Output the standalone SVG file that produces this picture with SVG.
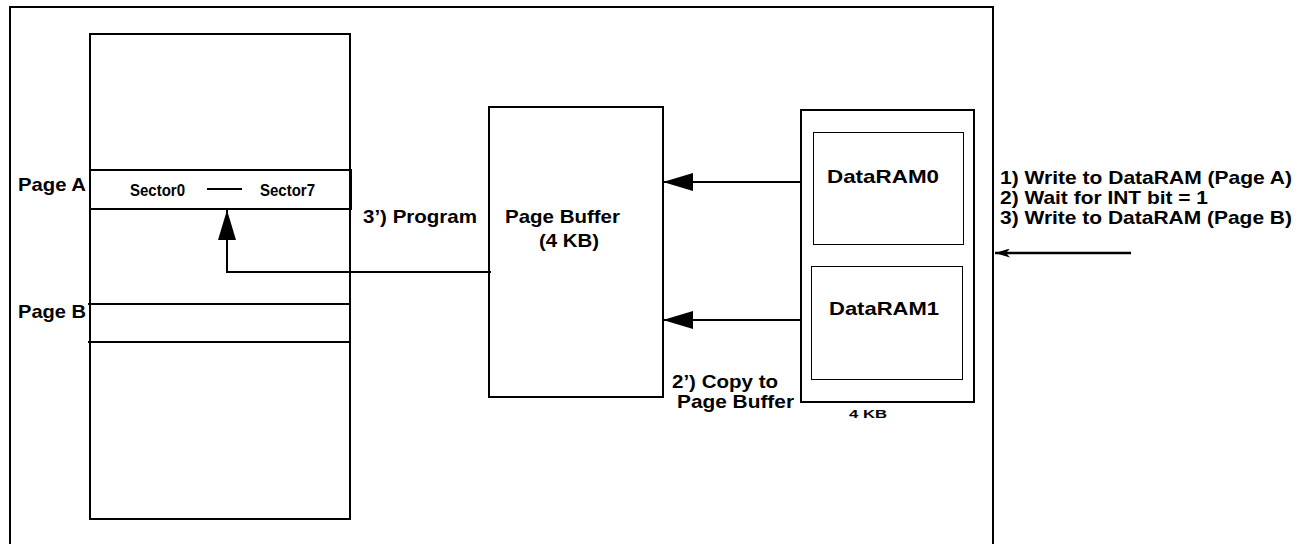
<svg xmlns="http://www.w3.org/2000/svg" width="1306" height="544" viewBox="0 0 1306 544">
<style>
.box{fill:none;stroke:#000;stroke-width:2}
.thin{fill:none;stroke:#000;stroke-width:1}
.ln{fill:none;stroke:#000;stroke-width:2}
.ln3{fill:none;stroke:#000;stroke-width:2.5}
text{font-family:"Liberation Sans",Arial,sans-serif;font-weight:bold;fill:#000}
.t{font-size:19px}
.s{font-size:17px}
.k{font-size:11px}
</style>
<defs>
<marker id="big" viewBox="0 0 30 18" refX="30" refY="9" markerWidth="30" markerHeight="18" markerUnits="userSpaceOnUse" orient="auto">
<path d="M0,0 L30,9 L0,18 Z" fill="#000"/>
</marker>
<marker id="small" viewBox="0 0 15 9" refX="15" refY="4.5" markerWidth="15" markerHeight="9" markerUnits="userSpaceOnUse" orient="auto">
<path d="M0,0 L15,4.5 L0,9 L4,4.5 Z" fill="#000"/>
</marker>
</defs>
<rect width="1306" height="544" fill="#fff"/>
<g id="frame">
<path class="box" d="M10,548 V7 H993 V548"/>
</g>
<g id="memory">
<rect class="box" x="90" y="34" width="260" height="485"/>
<rect class="box" x="90" y="170" width="261" height="39"/>
<line class="ln" x1="88" y1="304" x2="350" y2="304"/>
<line class="ln" x1="88" y1="342" x2="350" y2="342"/>
<text class="t" x="18" y="191" textLength="68" lengthAdjust="spacingAndGlyphs">Page A</text>
<text class="t" x="18" y="318" textLength="68" lengthAdjust="spacingAndGlyphs">Page B</text>
<text class="s" x="130" y="196" textLength="55" lengthAdjust="spacingAndGlyphs">Sector0</text>
<line class="ln" x1="207" y1="189" x2="242" y2="189"/>
<text class="s" x="260" y="196" textLength="55" lengthAdjust="spacingAndGlyphs">Sector7</text>
</g>
<g id="pagebuffer">
<rect class="box" x="489" y="107" width="174" height="290"/>
<text class="t" x="505" y="223" textLength="115" lengthAdjust="spacingAndGlyphs">Page Buffer</text>
<text class="t" x="539" y="247" textLength="60" lengthAdjust="spacingAndGlyphs">(4 KB)</text>
</g>
<g id="dataram">
<rect class="box" x="801" y="110" width="173" height="292"/>
<text class="k" x="849" y="418" textLength="38" lengthAdjust="spacingAndGlyphs">4 KB</text>
</g>
<g id="dataram0">
<rect class="thin" x="813.5" y="132.5" width="150" height="112"/>
<text class="t" x="827" y="183" textLength="112" lengthAdjust="spacingAndGlyphs">DataRAM0</text>
</g>
<g id="dataram1">
<rect class="thin" x="811.5" y="266.5" width="151" height="113"/>
<text class="t" x="829" y="315" textLength="110" lengthAdjust="spacingAndGlyphs">DataRAM1</text>
</g>
<g id="connectors">
<path class="ln" d="M491,272 H227 V210" marker-end="url(#big)"/>
<line class="ln" x1="801" y1="182" x2="663" y2="182" marker-end="url(#big)"/>
<line class="ln" x1="801" y1="320" x2="663" y2="320" marker-end="url(#big)"/>
<line class="ln3" x1="1131" y1="253" x2="995" y2="253" marker-end="url(#small)"/>
</g>
<g id="labels">
<text class="t" x="363" y="223" textLength="114" lengthAdjust="spacingAndGlyphs">3’) Program</text>
<text class="t" x="672" y="388" textLength="106" lengthAdjust="spacingAndGlyphs">2’) Copy to</text>
<text class="t" x="677" y="408" textLength="117" lengthAdjust="spacingAndGlyphs">Page Buffer</text>
<text class="t" x="1000" y="184" textLength="292" lengthAdjust="spacingAndGlyphs">1) Write to DataRAM (Page A)</text>
<text class="t" x="1000" y="204" textLength="208" lengthAdjust="spacingAndGlyphs">2) Wait for INT bit = 1</text>
<text class="t" x="1000" y="224" textLength="292" lengthAdjust="spacingAndGlyphs">3) Write to DataRAM (Page B)</text>
</g>
</svg>
